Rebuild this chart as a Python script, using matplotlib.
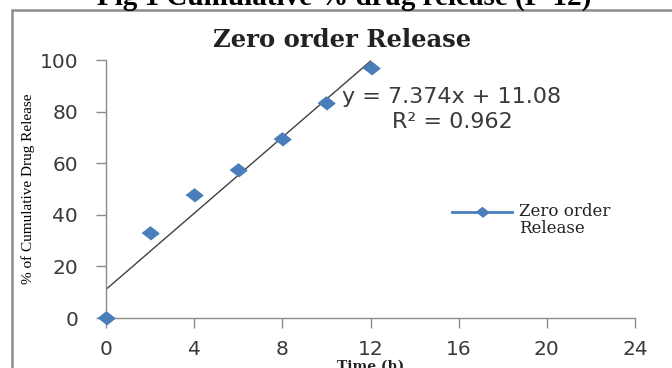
import numpy as np
import matplotlib.pyplot as plt
from matplotlib.patches import Rectangle
from matplotlib.lines import Line2D

# data
time_h = [0, 2, 4, 6, 8, 10, 12]
release = [0, 32.9, 47.6, 57.4, 69.3, 83.2, 96.8]
slope = 7.374
intercept = 11.08
r2 = 0.962
x_ticks = [0, 4, 8, 12, 16, 20, 24]
y_ticks = [0, 20, 40, 60, 80, 100]

BLUE = '#4a7ebb'
GRAY = '#8c8c8c'
TXT = '#3a3a3a'

fig = plt.figure(figsize=(6.72, 3.68), dpi=100)
W, H = 672, 368

# outer frame of the chart (left and top edges visible)
fig.patches.append(Rectangle((12 / W, -0.2), 1.2, 1.2 - 10 / H,
                             transform=fig.transFigure, fill=False,
                             edgecolor=GRAY, lw=1.8))

ax = fig.add_axes([106 / W, 1 - 318 / H, (635 - 106) / W, (318 - 60) / H])

# trendline
xt = np.array([time_h[0], time_h[-1]])
ax.plot(xt, slope * xt + intercept, color='#404040', lw=1.0, zorder=2)

diamond = [(-1, 0), (0, 0.78), (1, 0), (0, -0.78)]
ax.plot(time_h, release, ls='none', marker=diamond, markersize=12,
        color=BLUE, zorder=3, clip_on=False)

ax.set_xlim(0, 24)
ax.set_ylim(0, 100)
ax.set_xticks(x_ticks)
ax.set_yticks(y_ticks)
for s in ['top', 'right']:
    ax.spines[s].set_visible(False)
for s in ['left', 'bottom']:
    ax.spines[s].set_color(GRAY)
    ax.spines[s].set_linewidth(1.0)
ax.tick_params(direction='out', length=7, width=1.0, color=GRAY,
               labelcolor=TXT, labelsize=14.5)
ax.tick_params(axis='x', pad=9)
ax.tick_params(axis='y', pad=13)
for lab in ax.get_xticklabels() + ax.get_yticklabels():
    lab.set_family('DejaVu Sans')

ax.set_ylabel('% of Cumulative Drug Release', family='Liberation Serif',
              fontsize=11, color='black', labelpad=3)
ax.set_xlabel('Time (h)', family='DejaVu Serif', fontweight='bold',
              fontsize=10, color='#222222', labelpad=0)

# equation of the trendline
fig.text(452 / W, 1 - 97 / H, f'y = {slope}x + {intercept}',
         fontsize=16, color=TXT, ha='center', va='center')
fig.text(452 / W, 1 - 122 / H, f'R\u00b2 = {r2}', fontsize=16, color=TXT,
         ha='center', va='center')

# header (cut off at the top) and chart title
fig.text(344 / W, 1 - 5 / H, 'Fig 1 Cumulative % drug release (F-12)',
         family='Liberation Serif', fontweight='bold', fontsize=21,
         ha='center', va='baseline')
fig.text(342 / W, 1 - 47 / H, 'Zero order Release', family='DejaVu Serif',
         fontweight='bold', fontsize=17.5, color='#222222',
         ha='center', va='baseline')

# legend drawn by hand to match the layout
fig.add_artist(Line2D([452 / W, 512 / W], [1 - 212 / H, 1 - 212 / H],
                      transform=fig.transFigure, color=BLUE, lw=2))
fig.add_artist(Line2D([482 / W], [1 - 212 / H], transform=fig.transFigure,
                      color=BLUE, marker=diamond, markersize=9, ls='none'))
fig.text(519 / W, 1 - 220 / H, 'Zero order\nRelease', family='DejaVu Serif',
         fontsize=12, color='#222222', ha='left', va='center',
         linespacing=0.95)

fig.savefig('out.png', dpi=100)
